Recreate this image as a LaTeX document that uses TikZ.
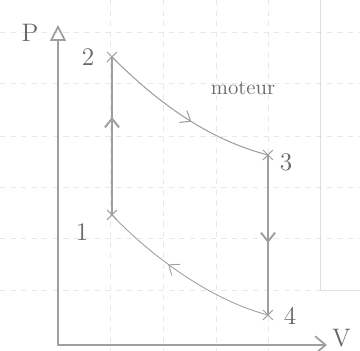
\documentclass[tikz,border=0pt]{standalone}
\usetikzlibrary{arrows.meta,decorations.markings,shapes.misc}
\begin{document}
\begin{tikzpicture}[
    x=0.02cm, y=-0.02cm,
    pencil/.style={draw=gray!75, line cap=round},
    gridline/.style={gray!18, dashed, line width=0.3pt},
    stat/.style={cross out, draw=gray!75, minimum size=5pt, inner sep=0pt, line width=0.6pt},
    lab/.style={text=gray!80!black, font=\Large},
    midarrow/.style={postaction={decorate, decoration={markings,
        mark=at position #1 with {\arrow{Straight Barb[length=5pt,width=8pt]}}}}}
  ]
    \useasboundingbox (0,0) rectangle (360,351);
    % grid of the paper
    \foreach \gx in {110,163,216,268} \draw[gridline] (\gx,0) -- (\gx,351);
    \foreach \gy in {32,83,136,187,238,290} \draw[gridline] (0,\gy) -- (360,\gy);
    \draw[gray!25, line width=0.4pt] (320,0) -- (320,290) -- (360,290);
    % axes
    \coordinate (o) at (58,345);
    \draw[pencil, line width=1pt, -{Triangle[open,length=9pt,width=9pt]}] (o) -- (58,25) coordinate (ptop);
    \draw[pencil, line width=1pt, -{Straight Barb[length=6pt,width=10pt]}] (o) -- (327,345) coordinate (vend);
    \node[lab] (plab) at (30,33) {P};
    \node[lab, anchor=east] (vlab) at (357,338) {V};
    % states
    \node[stat] (p1) at (112,215) {};
    \node[stat] (p2) at (112,57) {};
    \node[stat] (p3) at (268,155) {};
    \node[stat] (p4) at (268,315) {};
    \node[lab] (l1) at (82,232) {1};
    \node[lab] (l2) at (88,57) {2};
    \node[lab] (l3) at (286,162) {3};
    \node[lab] (l4) at (290,316) {4};
    % cycle
    \draw[pencil, line width=1.1pt, midarrow=0.62] (p1.center) -- (p2.center);
    \draw[pencil, line width=0.6pt, midarrow=0.55] (p2.center) .. controls (160,105) and (210,140) .. (p3.center);
    \draw[pencil, line width=1.1pt, midarrow=0.55] (p3.center) -- (p4.center);
    \draw[pencil, line width=0.5pt, midarrow=0.6] (p4.center) .. controls (210,300) and (150,255) .. (p1.center);
    \node[lab, font=\large] (mot) at (243,88) {moteur};
\end{tikzpicture}
\end{document}
